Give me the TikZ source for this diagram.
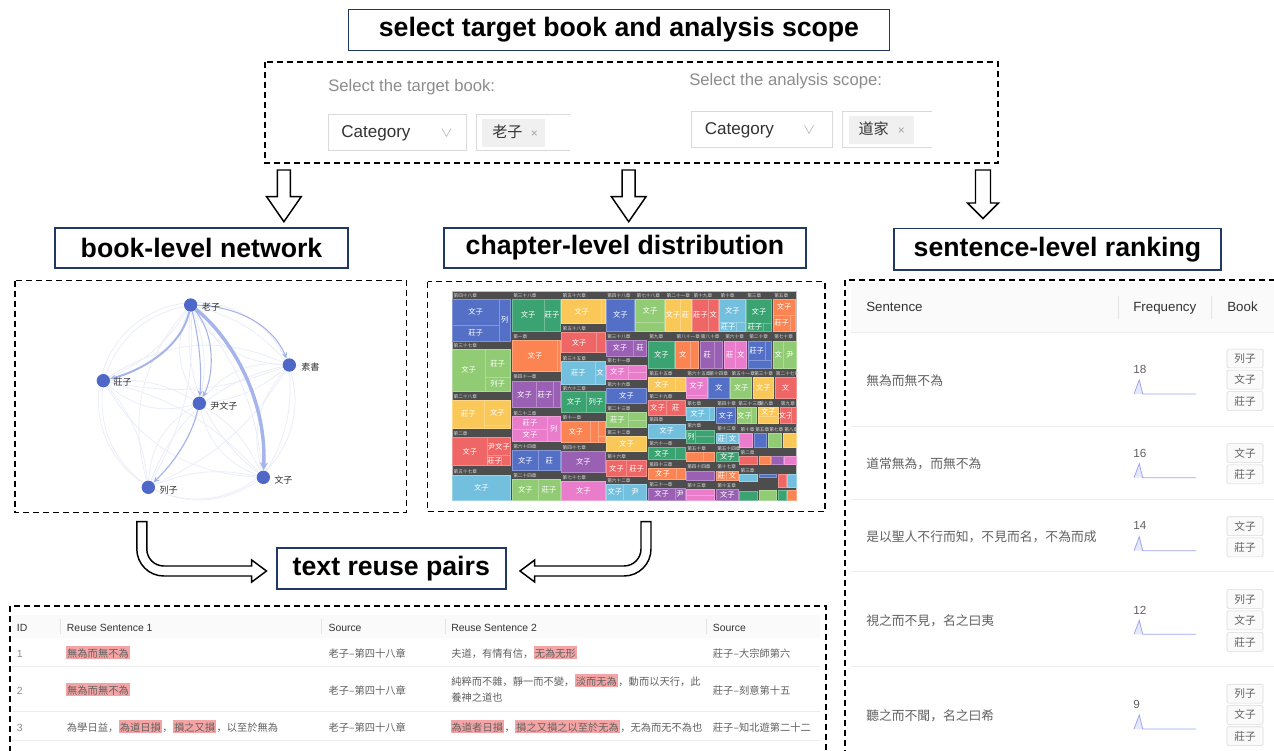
\documentclass[tikz,border=0pt]{standalone}
\usepackage{fontspec}
\setmainfont{Liberation Sans}
\newfontfamily\cjk{Noto Sans CJK SC}
\usetikzlibrary{arrows.meta}
\definecolor{navy}{HTML}{1F3864}
\definecolor{txtgray}{HTML}{8C8C8C}
\definecolor{txtdark}{HTML}{333333}
\definecolor{txtmid}{HTML}{616161}
\definecolor{bordergray}{HTML}{D9D9D9}
\definecolor{tagbg}{HTML}{F0F0F0}
\definecolor{hdrbg}{HTML}{FAFAFA}
\definecolor{rowline}{HTML}{EDEDED}
\definecolor{hlred}{HTML}{F4A4A4}
\definecolor{netblue}{HTML}{4F68C8}
\definecolor{netfaint}{HTML}{EAEDF9}
\definecolor{netedge}{HTML}{A5B4EA}
\definecolor{spark}{HTML}{9EA6F2}
\definecolor{sparkfill}{HTML}{E6E8FC}
\definecolor{tmbg}{HTML}{4D4D4D}
\definecolor{tb}{HTML}{5470C6}
\definecolor{tg}{HTML}{91CC75}
\definecolor{ty}{HTML}{FAC858}
\definecolor{tr}{HTML}{EE6666}
\definecolor{tc}{HTML}{73C0DE}
\definecolor{tdg}{HTML}{3BA272}
\definecolor{to}{HTML}{FC8452}
\definecolor{tp}{HTML}{9A60B4}
\definecolor{tk}{HTML}{EA7CCC}
\tikzset{
  titlebox/.style={draw=navy, line width=1.4pt, fill=white, inner sep=0pt, font=\fontsize{20}{24}\selectfont\bfseries, text=black},
  dbox/.style={draw=black, line width=1.1pt, dash pattern=on 4.5pt off 3pt},
  lat/.style={anchor=west, inner sep=0pt, text height=0.716em, text depth=0pt},
  cj/.style={anchor=west, inner sep=0pt, text height=0.76em, text depth=0pt},
  seltxt/.style={lat, font=\fontsize{12.5}{14}\selectfont, text=txtgray},
  cattxt/.style={lat, font=\fontsize{12.8}{14}\selectfont, text=txtdark},
  seltag/.style={cj, font=\cjk\fontsize{11.3}{12}\selectfont, text=txtdark},
  xmark/.style={lat, font=\fontsize{9}{10}\selectfont, text=txtgray!80},
  hollow/.style={draw=black, line width=1.1pt, fill=white, line join=miter},
  netnode/.style={circle, minimum size=10pt, inner sep=0pt},
  netlbl/.style={cj, font=\cjk\fontsize{6.8}{7}\selectfont, text=txtdark},
  faint/.style={netfaint, line width=0.55pt},
  strong/.style={netedge, line width=0.8pt, -{Stealth[length=4.5pt,width=4pt]}},
  tmlbl/.style={text=white, font=\cjk\fontsize{5.5}{6}\selectfont, inner sep=0pt},
  hdlbl/.style={text=white!85!black, font=\cjk\fontsize{3.5}{4}\selectfont, anchor=west, inner sep=0pt},
  hdrtxt/.style={lat, font=\fontsize{10}{12}\selectfont, text=txtdark},
  stext/.style={cj, font=\cjk\fontsize{9.6}{11}\selectfont, text=txtmid},
  numtxt/.style={lat, font=\fontsize{8.8}{10}\selectfont, text=txtmid},
  stagbox/.style={draw=bordergray, fill=hdrbg, rounded corners=1pt, minimum width=27pt, minimum height=14.2pt, inner sep=0pt, font=\cjk\fontsize{8}{9}\selectfont, text=txtmid},
  bhdr/.style={lat, font=\fontsize{7.8}{9}\selectfont, text=txtdark},
  bid/.style={lat, font=\fontsize{7.8}{9}\selectfont, text=txtgray},
  btxt/.style={cj, font=\cjk\fontsize{7.7}{9}\selectfont, text=txtmid},
  bhl/.style={btxt, fill=hlred, text height=0.88em, text depth=0.12em, inner xsep=0.7pt, inner ysep=0pt},
}
\newcommand\hdarrow[6]{\draw[hollow] (#1-#5,#2) -- (#1-#5,#3) -- (#1-#6,#3) -- (#1,#4) -- (#1+#6,#3) -- (#1+#5,#3) -- (#1+#5,#2) -- cycle;}
\newcommand\tile[6]{\filldraw[fill=#5, draw=#5!72!white, line width=0.35pt] (#1,#2) rectangle (#3,#4);
  \if\relax\detokenize{#6}\relax\else\node[tmlbl] at ({(#1+#3)/2},{(#2+#4)/2}) {#6};\fi}
\newcommand\hd[3]{\node[hdlbl] at (#1,#2) {#3};}
\newcommand\spk[1]{\fill[sparkfill] (1134,#1) -- (1139.3,#1-14) -- (1142.7,#1) -- cycle;
  \draw[spark, line width=0.6pt] (1134,#1) -- (1139.3,#1-14) -- (1142.7,#1) -- (1196,#1);}
\newcommand\stag[2]{\node[stagbox] at (1245,#1) {#2};}
\begin{document}
\begin{tikzpicture}[x=0.75pt,y=-0.75pt]
\useasboundingbox (0,0) rectangle (1274,750);
\clip (0,0) rectangle (1274,750);
\fill[white] (0,0) rectangle (1274,750);

% ---------- top selection ----------
\node[titlebox, minimum width=405.75pt, minimum height=30.75pt] (tsel) at (619,30) {select target book and analysis scope};
\draw[dbox] (265,62) rectangle (998,163);
\node[seltxt] (lb1) at (328,87) {Select the target book:};
\draw[bordergray, fill=white, line width=0.6pt] (328.5,114.3) rectangle (466,150.7);
\node[cattxt] (cat1) at (341,132.5) {Category};
\draw[txtgray!60, line width=0.5pt] (442,128.5) -- (446.5,136.5) -- (451,128.5);
\draw[bordergray, line width=0.6pt] (570,114.3) -- (476,114.3) -- (476,150.7) -- (570,150.7);
\fill[tagbg] (482,119) rectangle (545,146.7);
\node[seltag] (tg1) at (492,132.8) {老子};
\node[xmark] (x1) at (530.5,133) {×};
\node[seltxt] (lb2) at (689,81) {Select the analysis scope:};
\draw[bordergray, fill=white, line width=0.6pt] (691.5,111) rectangle (832.4,147.7);
\node[cattxt] (cat2) at (704.5,129.3) {Category};
\draw[txtgray!60, line width=0.5pt] (804.5,125.3) -- (809,133.3) -- (813.5,125.3);
\draw[bordergray, line width=0.6pt] (932,111) -- (842.4,111) -- (842.4,147.7) -- (932,147.7);
\fill[tagbg] (848.5,115.5) rectangle (914,143.5);
\node[seltag] (tg2) at (858.4,129.5) {道家};
\node[xmark] (x2) at (897.5,129.8) {×};

% ---------- down arrows ----------
\hdarrow{283.9}{170}{196.7}{221.7}{6.5}{17.3}
\hdarrow{628.7}{170}{196.7}{221.7}{6.5}{17.3}
\hdarrow{983}{170}{203}{218.5}{7.5}{15.5}

% ---------- section titles ----------
\node[titlebox, minimum width=219.75pt, minimum height=30pt] (tbook) at (201.5,248) {book-level network};
\node[titlebox, minimum width=271pt, minimum height=30pt] (tchap) at (625,248) {chapter-level distribution};
\node[titlebox, minimum width=245.25pt, minimum height=31pt] (tsent) at (1057.5,249.2) {sentence-level ranking};

% ---------- network ----------
\draw[dbox] (15,280.7) rectangle (406.7,512.5);
\begin{scope}[shift={(0,270)}, x=0.25pt, y=-0.25pt]
  \draw[faint] (590,392) circle[radius=73.75pt];
  \node[netnode] (lz) at (572,105) {};
  \node[netnode] (ss) at (868,285) {};
  \node[netnode] (zz) at (310,332) {};
  \node[netnode] (yw) at (598,400) {};
  \node[netnode] (lie) at (445,652) {};
  \node[netnode] (wz) at (790,622) {};
  \foreach \a/\b in {lz/ss,lz/zz,lz/lie,lz/wz,ss/zz,ss/yw,ss/lie,ss/wz,zz/yw,zz/lie,zz/wz,yw/wz,lie/wz,yw/lie,lz/yw}{
    \draw[faint] (\a) to[bend left=16] (\b);
    \draw[faint] (\a) to[bend right=28] (\b);
  }
  \draw[strong] (lz) .. controls (600,220) and (605,300) .. (yw);
  \draw[strong] (lz) .. controls (650,200) and (640,320) .. (yw);
  \draw[strong] (lz) .. controls (720,110) and (820,170) .. (ss);
  \draw[strong] (yw) .. controls (575,500) and (520,580) .. (lie);
  \draw[strong, line width=1.5pt] (lz) .. controls (545,230) and (430,300) .. (zz);
  \draw[strong, line width=2.6pt, -{Stealth[length=6pt,width=6pt]}] (lz) .. controls (690,200) and (800,380) .. (wz);
  \foreach \n in {lz,ss,zz,yw,lie,wz}{\fill[netblue] (\n) circle[radius=5pt];}
  \node[netlbl] (llz) at (605,105) {老子};
  \node[netlbl] (lss) at (903,287) {素書};
  \node[netlbl] (lzz) at (340,332) {莊子};
  \node[netlbl] (lyw) at (630,402) {尹文子};
  \node[netlbl] (llie) at (478,654) {列子};
  \node[netlbl] (lwz) at (822,624) {文子};
\end{scope}

% ---------- treemap ----------
\draw[dbox] (427.7,281.7) rectangle (825,511.7);
\begin{scope}[shift={(425,280)}, x=0.25pt, y=-0.25pt]
\filldraw[fill=tmbg, draw=gray!50, line width=0.5pt] (82,33) rectangle (1113,660);
% col 1
\hd{85}{48}{第四十八章}
\tile{82}{58}{222}{135}{tb}{文子}\tile{82}{135}{222}{183}{tb}{莊子}\tile{222}{58}{256}{183}{tb}{列}
\hd{85}{198}{第三十七章}
\tile{82}{208}{180}{333}{tg}{文子}\tile{180}{208}{256}{292}{tg}{莊子}\tile{180}{292}{256}{333}{tg}{列子}
\hd{85}{350}{第二十八章}
\tile{82}{360}{178}{445}{ty}{莊子}\tile{178}{360}{256}{435}{ty}{文子}\tile{178}{435}{256}{445}{ty}{}
\hd{85}{462}{第二章}
\tile{82}{472}{187}{557}{tr}{文子}\tile{187}{472}{256}{527}{tr}{尹文子}\tile{187}{527}{230}{557}{tr}{莊子}\tile{230}{527}{256}{557}{tr}{}
\hd{85}{575}{第五十七章}
\tile{82}{585}{256}{660}{tc}{文子}
% col 2
\hd{264}{48}{第三十八章}
\tile{262}{58}{357}{153}{tdg}{文子}\tile{357}{58}{405}{153}{tdg}{莊子}
\hd{264}{170}{第一章}
\tile{262}{180}{398}{273}{to}{文子}\tile{398}{180}{405}{273}{to}{}
\hd{264}{290}{第四十一章}
\tile{262}{303}{335}{383}{tp}{文子}\tile{335}{303}{385}{383}{tp}{莊子}\tile{385}{303}{405}{383}{tp}{}
\hd{264}{400}{第二十二章}
\tile{262}{410}{368}{447}{tk}{莊子}\tile{262}{447}{368}{483}{tk}{文子}\tile{368}{410}{405}{483}{tk}{列}
\hd{264}{500}{第六十四章}
\tile{262}{512}{340}{570}{tb}{文子}\tile{340}{512}{405}{570}{tb}{莊}
\hd{264}{588}{第二十四章}
\tile{262}{598}{340}{660}{tg}{文子}\tile{340}{598}{405}{660}{tg}{莊子}
% col 3
\hd{412}{48}{第五十六章}
\tile{410}{58}{530}{130}{ty}{文子}\tile{530}{58}{540}{130}{ty}{}
\hd{412}{145}{第五十八章}
\tile{410}{157}{515}{218}{tr}{文子}\tile{515}{157}{540}{218}{tr}{}
\hd{412}{235}{第三十五章}
\tile{410}{245}{510}{312}{tc}{莊子}\tile{510}{245}{540}{312}{tc}{文}
\hd{412}{325}{第六十二章}
\tile{410}{335}{485}{397}{tdg}{文子}\tile{485}{335}{540}{397}{tdg}{列子}
\hd{412}{413}{第十一章}
\tile{410}{425}{495}{488}{to}{文子}\tile{495}{425}{520}{488}{to}{}\tile{520}{425}{540}{470}{to}{}\tile{520}{470}{540}{488}{to}{}
\hd{412}{503}{第四十七章}
\tile{410}{515}{540}{578}{tp}{文子}
\hd{412}{592}{第七十七章}
\tile{410}{603}{540}{660}{tk}{文子}
% top row right
\hd{546}{48}{第四十八章}
\tile{544}{58}{628}{153}{tb}{文子}
\hd{634}{48}{第七十八章}
\tile{632}{58}{718}{128}{tg}{文子}\tile{632}{128}{718}{153}{tg}{}
\hd{724}{48}{第二十一章}
\tile{722}{58}{765}{153}{ty}{文子}\tile{765}{58}{798}{153}{ty}{莊}
\hd{805}{48}{第十九章}
\tile{803}{58}{850}{153}{tr}{莊子}\tile{850}{58}{880}{153}{tr}{文}
\hd{886}{48}{第十章}
\tile{884}{58}{960}{128}{tc}{文子}\tile{884}{128}{935}{153}{tc}{莊子}\tile{935}{128}{960}{153}{tc}{}
\hd{966}{48}{第三章}
\tile{964}{58}{1040}{130}{tdg}{文子}\tile{964}{130}{1015}{153}{tdg}{莊子}\tile{1015}{130}{1040}{153}{tdg}{}
\hd{1047}{48}{第五章}
\tile{1045}{58}{1110}{105}{to}{文子}\tile{1045}{105}{1095}{153}{to}{莊子}\tile{1095}{105}{1110}{153}{to}{}
% col 4
\hd{546}{170}{第三十八章}
\tile{544}{180}{625}{228}{tp}{文子}\tile{625}{180}{665}{228}{tp}{莊}
\hd{546}{243}{第七十一章}
\tile{544}{255}{610}{298}{tk}{文子}\tile{610}{255}{665}{277}{tk}{}\tile{610}{277}{665}{298}{tk}{}
\hd{546}{314}{第六十六章}
\tile{544}{325}{665}{370}{tb}{文子}
\hd{546}{387}{第二十三章}
\tile{544}{398}{610}{442}{tg}{莊子}\tile{610}{398}{665}{420}{tg}{}\tile{610}{420}{665}{442}{tg}{}
\hd{546}{459}{第三十二章}
\tile{544}{470}{665}{515}{ty}{文子}
\hd{546}{531}{第十六章}
\tile{544}{542}{605}{588}{tr}{文子}\tile{605}{542}{665}{588}{tr}{莊子}
\hd{546}{602}{第六十二章}
\tile{544}{613}{595}{660}{tc}{文子}\tile{595}{613}{665}{660}{tc}{尹}
% row A
\hd{672}{170}{第九章}
\tile{670}{183}{748}{265}{tdg}{文子}
\hd{754}{170}{第八十一章}
\tile{752}{183}{795}{265}{to}{文}\tile{795}{183}{820}{265}{to}{}
\hd{827}{170}{第八十章}
\tile{825}{183}{868}{265}{tp}{莊}\tile{868}{183}{893}{265}{tp}{}
\hd{900}{170}{第六十章}
\tile{898}{183}{930}{265}{tk}{莊}\tile{930}{183}{965}{265}{tk}{文}
\hd{972}{170}{第二十章}
\tile{970}{183}{1020}{240}{tb}{莊子}\tile{1020}{183}{1040}{240}{tb}{}\tile{970}{240}{1040}{265}{tb}{}
\hd{1047}{170}{第七十章}
\tile{1045}{183}{1075}{265}{tg}{文}\tile{1075}{183}{1113}{265}{tg}{尹}
% col B1
\hd{672}{280}{第五十五章}
\tile{670}{292}{750}{335}{ty}{文子}\tile{750}{292}{780}{335}{ty}{}
\hd{672}{350}{第二十九章}
\tile{670}{362}{725}{405}{tr}{文子}\tile{725}{362}{780}{405}{tr}{莊}
\hd{672}{420}{第四章}
\tile{670}{432}{780}{475}{tc}{文子}
\hd{672}{491}{第六十一章}
\tile{670}{503}{750}{537}{tdg}{文子}\tile{750}{503}{780}{537}{tdg}{}
\hd{672}{553}{第四十三章}
\tile{670}{565}{755}{598}{to}{文子}\tile{755}{565}{780}{598}{to}{}
\hd{672}{613}{第三十一章}
\tile{670}{625}{750}{660}{tp}{文子}\tile{750}{625}{780}{660}{tp}{尹}
% row B2
\hd{786}{280}{第六十五章}
\tile{784}{292}{846}{345}{tk}{文子}\tile{784}{345}{846}{355}{tk}{}
\hd{852}{280}{第十四章}
\tile{850}{292}{912}{355}{tb}{文}
\hd{919}{280}{第五十一章}
\tile{917}{292}{980}{355}{tg}{文子}
\hd{987}{280}{第三十章}
\tile{985}{292}{1045}{355}{ty}{文子}
\hd{1052}{280}{第二十七章}
\tile{1050}{292}{1113}{355}{tr}{文}
% col C1
\hd{786}{370}{第七章}
\tile{784}{382}{852}{422}{tc}{文子}\tile{852}{382}{868}{422}{tc}{}
\hd{786}{438}{第六章}
\tile{784}{450}{812}{490}{tdg}{列}\tile{812}{450}{868}{470}{tdg}{}\tile{812}{470}{868}{490}{tdg}{}
\hd{786}{506}{第五十章}
\tile{784}{518}{835}{545}{to}{}\tile{835}{518}{868}{545}{to}{}
\hd{786}{561}{第四十四章}
\tile{784}{573}{868}{600}{tp}{}
\hd{786}{616}{第十三章}
\tile{784}{628}{868}{645}{tk}{}\tile{784}{645}{868}{660}{tk}{}
% col D
\hd{876}{370}{第四十章}
\tile{874}{382}{932}{430}{tb}{文子}
\hd{939}{370}{第三十三章}
\tile{937}{382}{980}{430}{tg}{文子}\tile{980}{382}{995}{430}{tg}{}
\hd{1002}{370}{第八章}
\tile{1000}{382}{1060}{410}{ty}{文子}\tile{1000}{410}{1060}{430}{ty}{}
\hd{1067}{370}{第九章}
\tile{1065}{382}{1100}{430}{tr}{文子}\tile{1100}{382}{1113}{430}{tr}{}
\hd{876}{447}{第十二章}
\tile{874}{460}{905}{490}{tc}{莊}\tile{905}{460}{940}{490}{tc}{文}
\hd{946}{449}{第十章}
\tile{944}{460}{982}{503}{tk}{}
\hd{990}{449}{第五章}
\tile{988}{460}{1025}{503}{tb}{}
\hd{1032}{449}{第七章}
\tile{1030}{460}{1068}{503}{tg}{}
\hd{1077}{449}{第八章}
\tile{1075}{460}{1113}{503}{ty}{}
\hd{876}{505}{第五十四章}
\tile{874}{517}{940}{545}{tdg}{文子}
\hd{946}{519}{第二章}
\tile{944}{530}{998}{553}{tr}{}
\tile{1002}{530}{1037}{553}{to}{}
\tile{1040}{530}{1075}{553}{tp}{}
\tile{1078}{530}{1113}{553}{tk}{}
\hd{876}{561}{第十七章}
\tile{874}{573}{905}{600}{to}{莊}\tile{905}{573}{940}{600}{to}{文}
\hd{946}{572}{第三章}
\tile{944}{583}{998}{605}{tc}{}
\tile{1002}{583}{1055}{592}{tb}{}
\tile{1060}{583}{1083}{623}{tr}{}
\tile{1088}{583}{1113}{623}{tc}{}
\hd{876}{616}{第十五章}
\tile{874}{628}{940}{660}{tp}{文子}
\tile{944}{635}{998}{660}{tdg}{}
\tile{1002}{630}{1055}{660}{tg}{}
\tile{1060}{630}{1083}{660}{tdg}{}
\tile{1088}{630}{1113}{660}{to}{}
\end{scope}

% ---------- sentence ranking ----------
\draw[dbox] (845,280) rectangle (1290,770);
\fill[hdrbg] (851,282.5) rectangle (1274,332);
\draw[rowline, line width=0.6pt] (851,332) -- (1274,332);
\draw[bordergray!70, line width=0.5pt] (1118.3,296) -- (1118.3,319);
\draw[bordergray!70, line width=0.5pt] (1211,296) -- (1211,319);
\node[hdrtxt] (hs) at (866,307) {Sentence};
\node[hdrtxt] (hf) at (1133,307) {Frequency};
\node[hdrtxt] (hb) at (1227,307) {Book};
\foreach \yy in {426,499.3,571.7,666.7}{\draw[rowline, line width=0.6pt] (851,\yy) -- (1274,\yy);}
\node[stext] (s1) at (866,380.7) {無為而無不為};
\node[numtxt] (n1) at (1133,369) {18};
\spk{394}
\stag{358.5}{列子}\stag{379.6}{文子}\stag{401}{莊子}
\node[stext] (s2) at (866,463.3) {道常無為，而無不為};
\node[numtxt] (n2) at (1133,452.7) {16};
\spk{477.7}
\stag{453}{文子}\stag{474.3}{莊子}
\node[stext] (s3) at (866,536.7) {是以聖人不行而知，不見而名，不為而成};
\node[numtxt] (n3) at (1133,525) {14};
\spk{550.7}
\stag{526.2}{文子}\stag{547.3}{莊子}
\node[stext] (s4) at (866,620.7) {視之而不見，名之曰夷};
\node[numtxt] (n4) at (1133,609.3) {12};
\spk{634.3}
\stag{599}{列子}\stag{620.3}{文子}\stag{642}{莊子}
\node[stext] (s5) at (866,715) {聽之而不聞，名之曰希};
\node[numtxt] (n5) at (1133,703.3) {9};
\spk{729}
\stag{693.7}{列子}\stag{714.8}{文子}\stag{736.2}{莊子}

% ---------- curved arrows + reuse title ----------
\draw[hollow] (136.8,521.7) -- (136.8,549) .. controls (136.8,563.9) and (148.9,576) .. (163.8,576) -- (251.7,576) -- (251.7,582) -- (266.5,571) -- (251.7,560) -- (251.7,566) -- (163.8,566) .. controls (154.4,566) and (146.8,558.4) .. (146.8,549) -- (146.8,521.7) -- cycle;
\draw[hollow] (651,521.7) -- (651,549) .. controls (651,563.9) and (638.9,576) .. (624,576) -- (534.7,576) -- (534.7,582) -- (520,571) -- (534.7,560) -- (534.7,566) -- (624,566) .. controls (633.4,566) and (641,558.4) .. (641,549) -- (641,521.7) -- cycle;
\node[titlebox, minimum width=171.75pt, minimum height=30.75pt] (treuse) at (391.3,568.8) {text reuse pairs};

% ---------- reuse pairs table ----------
\draw[dbox] (10,606) rectangle (826,780);
\fill[hdrbg] (12,615) rectangle (820,638.3);
\foreach \xx in {60,321.7,445,706.7}{\draw[bordergray!70, line width=0.5pt] (\xx,619) -- (\xx,634);}
\node[bhdr] (h1) at (16.7,626.5) {ID};
\node[bhdr] (h2) at (66.7,626.5) {Reuse Sentence 1};
\node[bhdr] (h3) at (328.3,626.5) {Source};
\node[bhdr] (h4) at (451,626.5) {Reuse Sentence 2};
\node[bhdr] (h5) at (712.7,626.5) {Source};
\foreach \yy in {666.7,711.7,740}{\draw[rowline, line width=0.6pt] (12,\yy) -- (820,\yy);}
% row 1
\node[bid] (id1) at (16.7,652.7) {1};
\node[bhl] (a1) at (66,652.7) {無為而無不為};
\node[btxt] (c1) at (328.3,652.7) {老子–第四十八章};
\node[btxt] (d1a) at (451,652.7) {夫道，有情有信，};
\node[bhl] (d1b) at (d1a.east) {无為无形};
\node[btxt] (e1) at (712.7,652.7) {莊子–大宗師第六};
% row 2
\node[bid] (id2) at (16.7,689.3) {2};
\node[bhl] (a2) at (66,689.3) {無為而無不為};
\node[btxt] (c2) at (328.3,689.3) {老子–第四十八章};
\node[btxt] (d2a) at (451,680.7) {純粹而不雜，靜一而不變，};
\node[bhl] (d2b) at (d2a.east) {淡而无為};
\node[btxt] (d2c) at (d2b.east) {，動而以天行，此};
\node[btxt] (d2d) at (451,696.7) {養神之道也};
\node[btxt] (e2) at (712.7,689.3) {莊子–刻意第十五};
% row 3
\node[bid] (id3) at (16.7,726.7) {3};
\node[btxt] (a3a) at (66.7,726.7) {為學日益，};
\node[bhl] (a3b) at (a3a.east) {為道日損};
\node[btxt] (a3c) at (a3b.east) {，};
\node[bhl] (a3d) at (a3c.east) {損之又損};
\node[btxt] (a3e) at (a3d.east) {，以至於無為};
\node[btxt] (c3) at (328.3,726.7) {老子–第四十八章};
\node[bhl] (d3a) at (450.5,726.7) {為道者日損};
\node[btxt] (d3b) at (d3a.east) {，};
\node[bhl] (d3c) at (d3b.east) {損之又損之以至於无為};
\node[btxt] (d3d) at (d3c.east) {，无為而无不為也};
\node[btxt] (e3) at (712.7,726.7) {莊子–知北遊第二十二};
\end{tikzpicture}
\end{document}
